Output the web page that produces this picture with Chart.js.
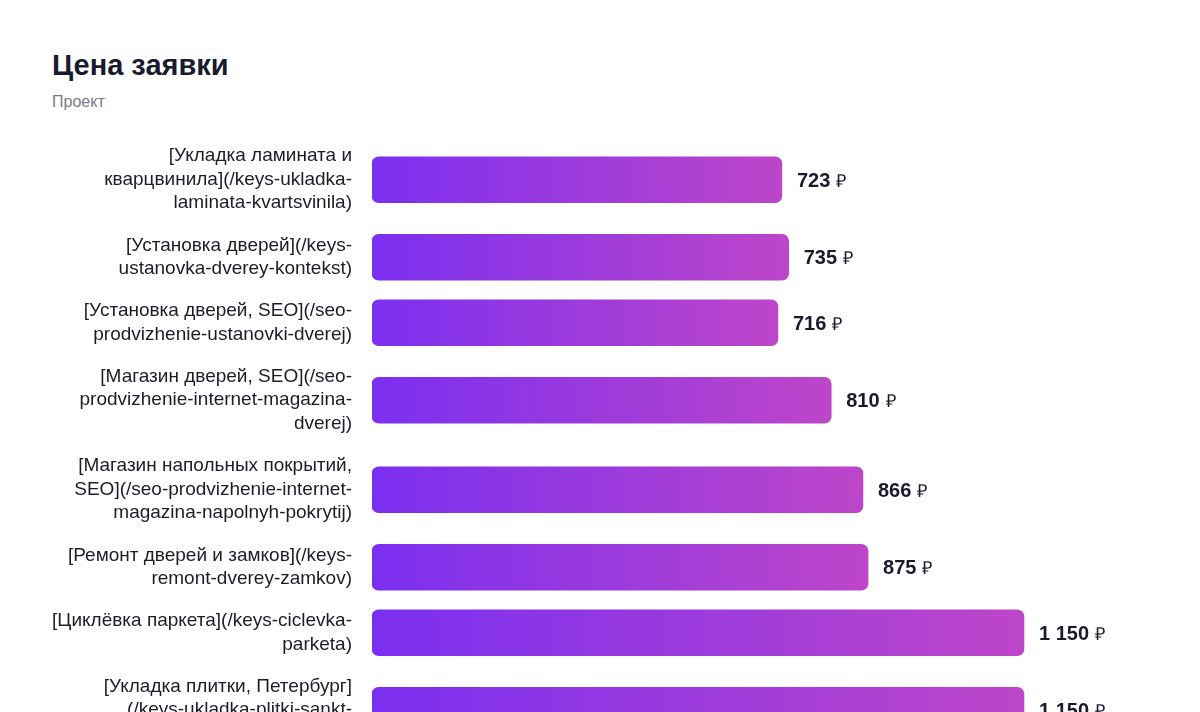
<!DOCTYPE html>
<html lang="ru">
<head>
<meta charset="utf-8">
<title>Цена заявки</title>
<script src="https://cdn.jsdelivr.net/npm/chart.js@4.4.1/dist/chart.umd.min.js"></script>
<style>
  html, body { margin: 0; background: #fff; }
  body {
    width: 1200px; height: 712px; overflow: hidden; position: relative;
    font-family: 'Liberation Sans', Arial, Helvetica, sans-serif;
  }
  h1 {
    position: absolute; left: 52px; top: 48px; margin: 0;
    font-size: 29px; line-height: 34px; font-weight: 700; color: #1a1a2e;
  }
  .sub {
    position: absolute; left: 52px; top: 92px;
    font-size: 16px; line-height: 20px; color: #7a7a8a;
  }
  #wrap { position: absolute; left: 52px; top: 65px; width: 1096px; }
</style>
</head>
<body>
<h1>Цена заявки</h1>
<div class="sub">Проект</div>
<div id="wrap"><canvas id="chart"></canvas></div>

<script>
// ── данные ───────────────────────────────────────────────────────────────────
const projects = [
  ['[Укладка ламината и', 'кварцвинила](/keys-ukladka-', 'laminata-kvartsvinila)'],
  ['[Установка дверей](/keys-', 'ustanovka-dverey-kontekst)'],
  ['[Установка дверей, SEO](/seo-', 'prodvizhenie-ustanovki-dverej)'],
  ['[Магазин дверей, SEO](/seo-', 'prodvizhenie-internet-magazina-', 'dverej)'],
  ['[Магазин напольных покрытий,', 'SEO](/seo-prodvizhenie-internet-', 'magazina-napolnyh-pokrytij)'],
  ['[Ремонт дверей и замков](/keys-', 'remont-dverey-zamkov)'],
  ['[Циклёвка паркета](/keys-ciclevka-', 'parketa)'],
  ['[Укладка плитки, Петербург]', '(/keys-ukladka-plitki-sankt-', 'peterburg)'],
];
const prices = [723, 735, 716, 810, 866, 875, 1150, 1150];

// ── раскладка строк: высота строки зависит от числа строк подписи ─────────────
const LINE = 24, GAP = 17.5, BAR = 46, PAD = 70;
const FONT = "'Liberation Sans', Arial, Helvetica, sans-serif";
const rowH = projects.map(l => Math.max(l.length * LINE, BAR) + GAP);
const centers = [];
let acc = 0;
rowH.forEach(h => { centers.push(acc + h / 2); acc += h; });
const total = acc;

document.getElementById('wrap').style.height = (total + PAD * 2) + 'px';

const rub = v => String(v).replace(/\B(?=(\d{3})+(?!\d))/g, '\u00a0');

// подписи значений справа от столбцов
const valueLabels = {
  id: 'valueLabels',
  afterDatasetsDraw(chart) {
    const { ctx } = chart;
    const meta = chart.getDatasetMeta(0);
    ctx.save();
    ctx.textBaseline = 'alphabetic';
    ctx.fillStyle = '#1a1a2e';
    meta.data.forEach((bar, i) => {
      const num = rub(prices[i]);
      const x = bar.x + 15, y = bar.y + 7;
      ctx.font = `bold 20px ${FONT}`;
      ctx.fillText(num, x, y);
      const w = ctx.measureText(num).width;
      ctx.font = `18px ${FONT}`;
      ctx.fillText('₽', x + w + 6, y);
    });
    ctx.restore();
  },
};

new Chart(document.getElementById('chart'), {
  type: 'bar',
  data: {
    datasets: [{
      data: prices.map((v, i) => ({ x: v, y: centers[i] })),
      backgroundColor: c => {
        const { chart } = c;
        if (!chart.chartArea || c.type !== 'data') return '#7b2ff0';
        const xs = chart.scales.x;
        const g = chart.ctx.createLinearGradient(xs.getPixelForValue(0), 0, xs.getPixelForValue(c.parsed.x), 0);
        g.addColorStop(0, '#7b2ff0');
        g.addColorStop(1, '#bd46c9');
        return g;
      },
      borderWidth: 0,
      borderRadius: 7,
      borderSkipped: false,
      barThickness: BAR,
    }],
  },
  options: {
    indexAxis: 'y',
    responsive: true,
    maintainAspectRatio: false,
    animation: false,
    layout: { padding: { top: PAD, bottom: PAD, left: 0, right: 39 } },
    plugins: { legend: { display: false }, tooltip: { enabled: false } },
    scales: {
      x: { display: false, min: 0, max: 1300 },
      y: {
        type: 'linear', reverse: true, min: 0, max: total, offset: false,
        grid: { display: false, drawTicks: false, offset: false },
        border: { display: false },
        afterBuildTicks: s => { s.ticks = centers.map(v => ({ value: v })); },
        afterFit: s => { s.width = 320; },
        ticks: {
          autoSkip: false, padding: 20, color: '#1c1c2b',
          font: { family: FONT, size: 19, lineHeight: 1.237 },
          callback: (v, i) => projects[i],
        },
      },
    },
  },
  plugins: [valueLabels],
});
</script>
</body>
</html>
